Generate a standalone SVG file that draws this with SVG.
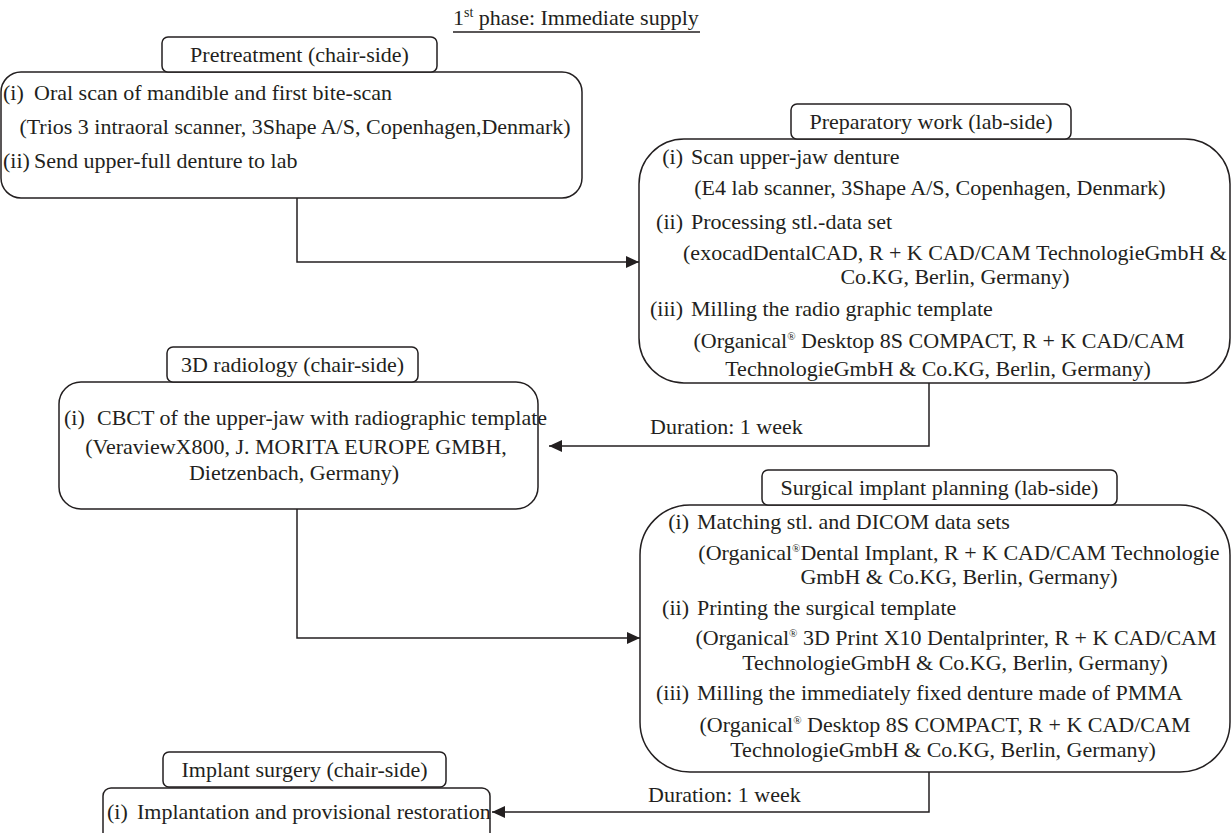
<svg xmlns="http://www.w3.org/2000/svg" width="1232" height="833" viewBox="0 0 1232 833">
<style>
  text { font-family: "Liberation Serif", "Times New Roman", serif; font-size: 22px; fill: #231f20; }
  .box { fill: #ffffff; stroke: #231f20; stroke-width: 1.5; }
  .hdr { fill: #ffffff; stroke: #231f20; stroke-width: 1.5; }
  .mid { text-anchor: middle; }
  .lbl { text-anchor: end; }
  .conn { fill: none; stroke: #231f20; stroke-width: 1.5; }
</style>
<defs>
  <marker id="arr" markerUnits="userSpaceOnUse" markerWidth="14" markerHeight="12" refX="13" refY="6" orient="auto">
    <path d="M0,0 L13,6 L0,12 Z" fill="#231f20"/>
  </marker>
</defs>
<rect width="1232" height="833" fill="#ffffff"/>

<g id="title">
  <text x="453" y="25">1<tspan font-size="14" dy="-8">st</tspan><tspan dy="8"> phase: Immediate supply</tspan></text>
  <line x1="453" y1="32" x2="700" y2="32" stroke="#231f20" stroke-width="1.3"/>
</g>

<g id="connectors">
  <path class="conn" d="M297,198 V262 H639" marker-end="url(#arr)"/>
  <path class="conn" d="M929,383 V446 H549" marker-end="url(#arr)"/>
  <path class="conn" d="M297,509 V638 H640" marker-end="url(#arr)"/>
  <path class="conn" d="M929,772 V812 H492" marker-end="url(#arr)"/>
  <text x="650" y="434">Duration: 1 week</text>
  <text x="648" y="802">Duration: 1 week</text>
</g>

<g id="pretreatment">
  <rect class="box" x="1" y="72" width="581" height="126" rx="20"/>
  <rect class="hdr" x="162" y="37" width="275" height="35" rx="6"/>
  <text class="mid" x="299.5" y="62">Pretreatment (chair-side)</text>
  <text x="3" y="100">(i)</text><text x="34" y="100">Oral scan of mandible and first bite-scan</text>
  <text class="mid" x="295" y="134">(Trios 3 intraoral scanner, 3Shape A/S, Copenhagen,Denmark)</text>
  <text x="3" y="168">(ii)</text><text x="34" y="168">Send upper-full denture to lab</text>
</g>

<g id="preparatory">
  <rect class="box" x="639" y="139" width="591" height="244" rx="45"/>
  <rect class="hdr" x="791" y="104" width="280" height="35" rx="6"/>
  <text class="mid" x="931" y="129">Preparatory work (lab-side)</text>
  <text class="lbl" x="683" y="164">(i)</text><text x="691" y="164">Scan upper-jaw denture</text>
  <text class="mid" x="930" y="195">(E4 lab scanner, 3Shape A/S, Copenhagen, Denmark)</text>
  <text class="lbl" x="683" y="229">(ii)</text><text x="691" y="229">Processing stl.-data set</text>
  <text class="mid" x="955" y="260">(exocadDentalCAD, R + K CAD/CAM TechnologieGmbH &amp;</text>
  <text class="mid" x="955" y="284">Co.KG, Berlin, Germany)</text>
  <text class="lbl" x="683" y="316">(iii)</text><text x="691" y="316">Milling the radio graphic template</text>
  <text class="mid" x="939" y="348">(Organical<tspan font-size="11" dy="-8">®</tspan><tspan dy="8"> Desktop 8S COMPACT, R + K CAD/CAM</tspan></text>
  <text class="mid" x="938" y="376">TechnologieGmbH &amp; Co.KG, Berlin, Germany)</text>
</g>

<g id="radiology">
  <rect class="box" x="59" y="382" width="479" height="127" rx="22"/>
  <rect class="hdr" x="167" y="347" width="251" height="35" rx="6"/>
  <text class="mid" x="292.5" y="372">3D radiology (chair-side)</text>
  <text x="64" y="425">(i)</text><text x="97" y="425">CBCT of the upper-jaw with radiographic template</text>
  <text class="mid" x="296" y="454">(VeraviewX800, J. MORITA EUROPE GMBH,</text>
  <text class="mid" x="294" y="480">Dietzenbach, Germany)</text>
</g>

<g id="planning">
  <rect class="box" x="640" y="505" width="590" height="267" rx="50"/>
  <rect class="hdr" x="762" y="470" width="355" height="35" rx="6"/>
  <text class="mid" x="939.5" y="495">Surgical implant planning (lab-side)</text>
  <text class="lbl" x="689" y="529">(i)</text><text x="697" y="529">Matching stl. and DICOM data sets</text>
  <text class="mid" x="959" y="560">(Organical<tspan font-size="11" dy="-8">®</tspan><tspan dy="8">Dental Implant, R + K CAD/CAM Technologie</tspan></text>
  <text class="mid" x="959" y="584">GmbH &amp; Co.KG, Berlin, Germany)</text>
  <text class="lbl" x="689" y="615">(ii)</text><text x="697" y="615">Printing the surgical template</text>
  <text class="mid" x="956" y="645">(Organical<tspan font-size="11" dy="-8">®</tspan><tspan dy="8"> 3D Print X10 Dentalprinter, R + K CAD/CAM</tspan></text>
  <text class="mid" x="955" y="670">TechnologieGmbH &amp; Co.KG, Berlin, Germany)</text>
  <text class="lbl" x="689" y="700">(iii)</text><text x="697" y="700">Milling the immediately fixed denture made of PMMA</text>
  <text class="mid" x="945" y="732">(Organical<tspan font-size="11" dy="-8">®</tspan><tspan dy="8"> Desktop 8S COMPACT, R + K CAD/CAM</tspan></text>
  <text class="mid" x="943" y="757">TechnologieGmbH &amp; Co.KG, Berlin, Germany)</text>
</g>

<g id="surgery">
  <rect class="box" x="103" y="788" width="387" height="60" rx="8"/>
  <rect class="hdr" x="163" y="752" width="283" height="35" rx="6"/>
  <text class="mid" x="304.5" y="777">Implant surgery (chair-side)</text>
  <text x="107" y="819">(i)</text><text x="137" y="819">Implantation and provisional restoration</text>
</g>
</svg>
